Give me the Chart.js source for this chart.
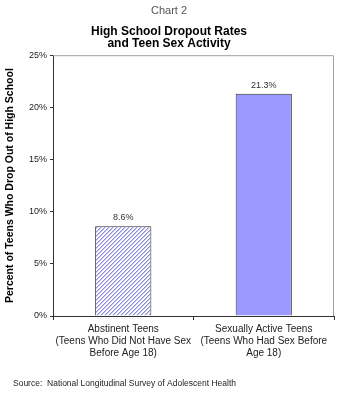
<!DOCTYPE html>
<html>
<head>
<meta charset="utf-8">
<script src="https://cdn.jsdelivr.net/npm/chart.js@4"></script>
<style>
  html, body { margin: 0; padding: 0; background: #fff; }
  #wrap { width: 350px; height: 400px; }
</style>
</head>
<body>
<div id="wrap"><canvas id="GraficoEvasao" width="350" height="400"></canvas></div>
<script>
// dados do grafico
const categorias = [
    ['Abstinent Teens', '(Teens Who Did Not Have Sex', 'Before Age 18)'],
    ['Sexually Active Teens', '(Teens Who Had Sex Before', 'Age 18)']
];
const taxasEvasao = [8.6, 21.3];
const rotulosValor = ['8.6%', '21.3%'];
const ticksY = [0, 5, 10, 15, 20, 25];

const fonte = '"Liberation Sans", Arial, sans-serif';

// hachura diagonal da primeira barra (pixel a pixel, sem borrar)
function criarHachura() {
    const c = document.createElement('canvas');
    c.width = 4;
    c.height = 4;
    const g = c.getContext('2d');
    g.fillStyle = '#ffffff';
    g.fillRect(0, 0, 4, 4);
    for (let x = 0; x < 4; x++) {
        for (let y = 0; y < 4; y++) {
            const d = (x + y) % 4;
            if (d === 3) {
                g.fillStyle = '#8e8ed8';
                g.fillRect(x, y, 1, 1);
            } else if (d === 0) {
                g.fillStyle = '#c4c4ee';
                g.fillRect(x, y, 1, 1);
            }
        }
    }
    return g.createPattern(c, 'repeat');
}

const ctx = document.getElementById('GraficoEvasao').getContext('2d');

// borda do plot e rotulos
const extras = {
    id: 'extras',
    beforeDatasetsDraw(chart) {
        const a = chart.chartArea;
        const g = chart.ctx;
        g.save();
        g.strokeStyle = '#a0a0a0';
        g.lineWidth = 1;
        g.beginPath();
        g.moveTo(a.left, a.top + 0.5);
        g.lineTo(a.right - 0.5, a.top + 0.5);
        g.lineTo(a.right - 0.5, a.bottom);
        g.stroke();
        g.restore();
    },
    afterDatasetsDraw(chart) {
        const g = chart.ctx;
        const meta = chart.getDatasetMeta(0);
        g.save();
        g.font = '9px ' + fonte;
        g.fillStyle = '#333';
        g.textAlign = 'center';
        g.textBaseline = 'bottom';
        meta.data.forEach((bar, i) => {
            g.fillText(rotulosValor[i], bar.x, bar.y - 4);
        });
        g.font = '8.5px ' + fonte;
        g.fillStyle = '#222';
        g.textAlign = 'left';
        g.textBaseline = 'middle';
        g.fillText('Source:  National Longitudinal Survey of Adolescent Health', 13, 384);
        g.restore();
    }
};

new Chart(ctx, {
    type: 'bar',
    data: {
        labels: categorias,
        datasets: [{
            data: taxasEvasao,
            backgroundColor: [criarHachura(), '#9999ff'],
            borderColor: '#333333',
            borderWidth: 1,
            borderSkipped: 'bottom',
            barPercentage: 0.5,
            categoryPercentage: 0.8
        }]
    },
    options: {
        responsive: false,
        animation: false,
        events: [],
        layout: { padding: { top: 4, left: 4, right: 16, bottom: 38 } },
        plugins: {
            legend: { display: false },
            tooltip: { enabled: false },
            title: {
                display: true,
                text: 'Chart 2',
                color: '#555',
                font: { family: fonte, size: 11, weight: 'normal', lineHeight: 1.2 },
                padding: { top: 0, bottom: 8 }
            },
            subtitle: {
                display: true,
                text: ['High School Dropout Rates', 'and Teen Sex Activity'],
                color: '#000',
                font: { family: fonte, size: 12, weight: 'bold', lineHeight: 1.0 },
                padding: { top: 0, bottom: 6 }
            }
        },
        scales: {
            x: {
                grid: { display: true, drawOnChartArea: false, drawTicks: true, tickLength: 4, color: '#333' },
                border: { display: true, color: '#333' },
                ticks: { color: '#222', font: { family: fonte, size: 10, lineHeight: 1.2 }, maxRotation: 0, padding: 3 }
            },
            y: {
                min: 0,
                max: 25,
                afterBuildTicks(scale) {
                    scale.ticks = ticksY.map(v => ({ value: v }));
                },
                afterFit(scale) {
                    scale.width = 49;
                },
                grid: { display: true, drawOnChartArea: false, drawTicks: true, tickLength: 3, color: '#333' },
                border: { display: true, color: '#333' },
                ticks: {
                    color: '#222',
                    font: { family: fonte, size: 9 },
                    padding: 3,
                    callback: v => v + '%'
                },
                title: {
                    display: true,
                    text: 'Percent of Teens Who Drop Out of High School',
                    color: '#000',
                    font: { family: fonte, size: 10.5, weight: 'bold' },
                    padding: { top: 0, bottom: 6 }
                }
            }
        }
    },
    plugins: [extras]
});
</script>
</body>
</html>
